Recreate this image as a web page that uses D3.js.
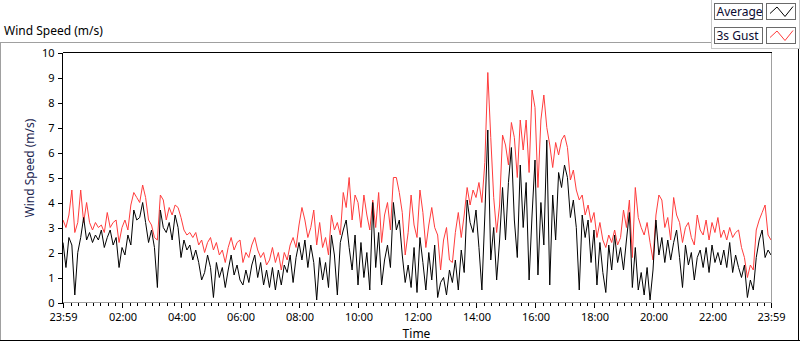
<!DOCTYPE html>
<html>
<head>
<meta charset="utf-8">
<script src="https://cdn.jsdelivr.net/npm/d3@7/dist/d3.min.js"></script>
<style>
  body { margin: 0; background: #fff; }
  text { font-family: "Noto Sans", sans-serif; }
</style>
</head>
<body>
<div id="chart"></div>
<script>
// wind speed samples, one every 6 minutes starting at 23:59 (m/s)
var avgSpeed = [
  2.4,1.4,2.6,2.3,0.3,2.0,2.6,3.4,2.5,2.8,
  2.4,2.7,2.5,2.9,2.2,2.6,2.9,2.3,2.6,1.4,
  2.2,1.9,2.7,2.3,3.7,3.3,3.4,4.0,3.2,2.4,
  2.9,2.2,0.6,3.7,3.0,2.8,3.2,2.5,3.5,3.0,
  1.8,2.5,2.1,2.3,1.7,2.1,1.6,0.9,1.2,1.9,
  1.4,0.2,1.6,1.0,1.4,0.6,1.3,1.9,1.1,1.5,
  0.9,0.7,1.3,0.8,1.5,1.9,1.0,1.6,0.7,1.3,
  0.6,1.4,0.5,1.3,0.7,1.5,1.2,1.9,0.8,1.8,
  2.4,1.7,2.5,1.4,2.3,1.6,0.1,1.8,0.9,1.6,
  0.6,2.7,1.9,0.3,2.4,2.9,3.3,2.2,1.3,2.7,
  0.7,2.4,1.0,2.0,0.5,4.0,1.4,2.8,0.7,1.7,
  2.3,1.4,4.0,2.9,3.3,1.9,0.8,1.5,0.6,2.2,
  0.4,2.6,1.6,0.5,2.0,0.9,2.3,0.2,0.8,1.0,
  0.3,1.3,0.8,1.7,0.5,2.1,1.2,4.1,3.2,2.8,
  3.7,2.2,0.5,3.5,6.9,1.7,3.0,0.9,2.5,4.6,
  2.5,4.8,6.2,3.3,1.8,5.5,3.0,4.8,0.9,3.5,
  5.7,1.1,4.0,2.3,6.5,0.7,4.3,2.5,5.2,4.6,
  5.5,5.0,3.4,4.1,3.0,0.5,3.5,2.6,3.3,1.6,
  2.9,0.7,2.4,1.2,0.4,2.3,1.3,2.7,1.6,2.2,
  1.3,2.5,3.6,0.6,2.2,0.5,1.2,0.3,1.4,0.1,
  1.3,3.3,1.9,2.6,1.6,2.5,1.7,2.4,2.9,1.8,
  0.6,2.3,1.5,2.0,0.9,1.8,2.1,1.4,2.2,1.2,
  2.3,1.6,2.0,1.5,2.1,1.4,2.4,1.2,1.9,1.4,
  1.0,1.5,0.2,0.9,0.5,1.8,2.5,2.9,1.8,2.1,1.9
];
var gustSpeed = [
  3.3,3.0,3.5,4.5,2.8,3.2,4.5,3.2,4.0,3.2,
  2.9,3.2,3.0,3.1,2.8,3.6,3.0,3.2,3.3,2.4,
  3.0,3.3,2.9,3.9,4.4,4.2,4.0,4.7,4.2,3.3,
  3.1,2.6,2.5,4.3,4.1,3.3,3.8,3.5,3.9,3.8,
  3.4,2.9,2.7,2.8,2.6,2.8,2.3,2.5,2.0,2.4,
  2.6,2.1,2.4,1.9,2.1,1.6,2.2,2.6,2.1,2.4,
  2.5,1.6,2.0,1.8,2.3,2.6,2.1,1.8,2.0,1.5,
  1.7,2.2,1.6,2.0,1.3,2.0,1.7,2.3,2.6,2.2,
  3.1,3.8,3.3,2.6,3.0,3.7,2.3,3.2,2.2,2.6,
  1.9,3.5,2.9,3.2,2.7,4.4,3.8,5.0,3.3,4.3,
  4.0,3.0,4.3,3.5,2.9,4.1,3.0,4.4,2.4,3.5,
  4.0,2.9,5.0,5.0,4.4,3.6,1.9,2.8,4.3,3.1,
  2.6,4.5,3.6,2.2,3.1,3.8,3.0,2.7,1.3,2.5,
  3.0,1.7,1.6,2.8,3.6,2.6,3.5,4.6,3.9,4.5,
  4.2,4.8,4.0,5.6,9.2,6.6,4.2,2.8,3.9,6.7,
  6.3,5.5,7.2,6.6,5.0,7.3,6.1,7.3,5.2,8.5,
  7.8,4.6,7.3,8.3,7.0,6.3,5.4,6.4,5.9,6.5,
  6.7,6.2,4.9,5.3,4.5,4.1,4.3,3.5,3.9,3.2,
  3.6,2.6,3.2,2.5,2.2,2.7,2.4,2.9,2.3,2.6,
  3.7,3.0,4.1,1.8,4.6,3.4,3.0,2.7,3.2,2.4,
  1.7,3.5,4.3,4.1,3.0,3.4,2.5,4.2,3.5,3.2,
  2.4,3.0,3.2,2.6,2.3,3.5,2.9,2.7,3.3,2.5,
  3.2,2.8,3.4,2.6,2.9,2.5,3.0,2.6,2.8,2.9,
  2.2,1.8,1.0,1.5,1.3,2.9,3.3,3.6,3.9,2.7,2.5
];
var yTicks = [0,1,2,3,4,5,6,7,8,9,10];
var seriesNames = ["Average", "3s Gust"];
var seriesColors = ["#000000", "#ff3c3c"];
var startTime = new Date(2000, 0, 1, 23, 59);
var stepMinutes = 6;

var width = 800, height = 342;
var plot = {left: 62.5, top: 52.5, right: 771.5, bottom: 302.5};

var svg = d3.select("#chart")
  .append("svg")
  .attr("width", width)
  .attr("height", height);

var endTime = d3.timeMinute.offset(startTime, 24 * 60);

var x = d3.scaleTime()
  .domain([startTime, endTime])
  .range([63, 771]);

var y = d3.scaleLinear()
  .domain([0, 10])
  .range([302.5, 52.5]);

// outer frame + title underline
var frame = svg.append("g").attr("shape-rendering", "crispEdges");
frame.append("line").attr("x1", 0).attr("x2", 711).attr("y1", 42.5).attr("y2", 42.5).attr("stroke", "#a0a0a0");
frame.append("line").attr("x1", 0.5).attr("x2", 0.5).attr("y1", 42.5).attr("y2", 341).attr("stroke", "#a0a0a0");
frame.append("line").attr("x1", 0).attr("x2", 800).attr("y1", 340.5).attr("y2", 340.5).attr("stroke", "#000");
frame.append("line").attr("x1", 798.5).attr("x2", 798.5).attr("y1", 48).attr("y2", 341).attr("stroke", "#000");

// legend panel
frame.append("line").attr("x1", 711.5).attr("x2", 711.5).attr("y1", 0).attr("y2", 48.5).attr("stroke", "#c8c8c8");
frame.append("line").attr("x1", 711.5).attr("x2", 799).attr("y1", 48.5).attr("y2", 48.5).attr("stroke", "#c8c8c8");
frame.append("line").attr("x1", 799.5).attr("x2", 799.5).attr("y1", 0).attr("y2", 48.5).attr("stroke", "#c8c8c8");

svg.append("text")
  .attr("x", 4)
  .attr("y", 35)
  .style("font-size", "12px")
  .attr("fill", "#000")
  .text("Wind Speed (m/s)");

// legend
var legend = svg.append("g");
seriesNames.forEach(function(name, k) {
  var top = 3.5 + k * 24;
  legend.append("rect")
    .attr("x", 714.5).attr("y", top).attr("width", 48).attr("height", 16)
    .attr("fill", "#fff").attr("stroke", "#6a6a6a").attr("shape-rendering", "crispEdges");
  legend.append("text")
    .attr("x", 716.5).attr("y", top + 12.5)
    .style("font-size", "12px").attr("fill", "#0a0a30")
    .text(name);
  legend.append("rect")
    .attr("x", 766.5).attr("y", top).attr("width", 29).attr("height", 16)
    .attr("fill", "#fff").attr("stroke", "#6a6a6a").attr("shape-rendering", "crispEdges");
  legend.append("path")
    .attr("d", d3.line()([[770, top + 10], [777, top + 3.5], [785, top + 13], [793, top + 3]]))
    .attr("fill", "none").attr("stroke", seriesColors[k]).attr("stroke-width", 1);
});

// clip
svg.append("clipPath").attr("id", "plotclip")
  .append("rect")
  .attr("x", plot.left).attr("y", plot.top)
  .attr("width", plot.right - plot.left).attr("height", plot.bottom - plot.top);

var lineGen = d3.line()
  .x(function(d, i) { return x(d3.timeMinute.offset(startTime, i * stepMinutes)); })
  .y(function(d) { return y(d); });

var lines = svg.append("g").attr("clip-path", "url(#plotclip)");
lines.append("path")
  .datum(gustSpeed)
  .attr("d", lineGen)
  .attr("fill", "none")
  .attr("stroke", seriesColors[1])
  .attr("stroke-width", 1);
lines.append("path")
  .datum(avgSpeed)
  .attr("d", lineGen)
  .attr("fill", "none")
  .attr("stroke", seriesColors[0])
  .attr("stroke-width", 1);

// plot border: dark top/left, light bottom/right
var border = svg.append("g").attr("shape-rendering", "crispEdges");
border.append("line").attr("x1", plot.left).attr("x2", plot.right).attr("y1", plot.top).attr("y2", plot.top).attr("stroke", "#000");
border.append("line").attr("x1", plot.left).attr("x2", plot.left).attr("y1", plot.top).attr("y2", plot.bottom).attr("stroke", "#000");
border.append("line").attr("x1", plot.left).attr("x2", plot.right).attr("y1", plot.bottom).attr("y2", plot.bottom).attr("stroke", "#a0a0a0");
border.append("line").attr("x1", plot.right).attr("x2", plot.right).attr("y1", plot.top).attr("y2", plot.bottom + 0.5).attr("stroke", "#a0a0a0");

// y axis
var yAxis = svg.append("g")
  .attr("transform", "translate(" + plot.left + ",0)")
  .call(d3.axisLeft(y).tickValues(yTicks).tickSize(5).tickPadding(3));
yAxis.select(".domain").remove();
yAxis.selectAll("text").style("font-size", "11px").attr("fill", "#000");
yAxis.selectAll("line").attr("shape-rendering", "crispEdges");

// x axis: majors every 2 hours plus both ends, minors every 15 min
var majorTicks = [startTime].concat(
  d3.timeHour.every(2).range(d3.timeMinute.offset(startTime, 2), endTime)
    .filter(function(d) { return d.getHours() != 0; }),
  [endTime]);
var minorTicks = d3.timeMinute.every(15).range(d3.timeMinute.offset(startTime, 2), endTime)
  .filter(function(d) { return !(d.getMinutes() == 0 && d.getHours() % 2 == 0); });

var fmt = d3.timeFormat("%H:%M");
var xMinor = svg.append("g")
  .attr("transform", "translate(0," + plot.bottom + ")")
  .call(d3.axisBottom(x).tickValues(minorTicks).tickSize(3).tickFormat(""));
xMinor.select(".domain").remove();

var xAxis = svg.append("g")
  .attr("transform", "translate(0," + plot.bottom + ")")
  .call(d3.axisBottom(x).tickValues(majorTicks).tickSize(5).tickPadding(6).tickFormat(fmt));
xAxis.select(".domain").remove();
xAxis.selectAll("text").style("font-size", "11px").attr("fill", "#000");
svg.selectAll(".tick line").attr("shape-rendering", "crispEdges");

// axis titles
svg.append("text")
  .attr("transform", "translate(34,168) rotate(-90)")
  .attr("text-anchor", "middle")
  .style("font-size", "12px")
  .attr("fill", "#1a2550")
  .text("Wind Speed (m/s)");

svg.append("text")
  .attr("x", 416.5)
  .attr("y", 338)
  .attr("text-anchor", "middle")
  .style("font-size", "12px")
  .attr("fill", "#000")
  .text("Time");
</script>
</body>
</html>
